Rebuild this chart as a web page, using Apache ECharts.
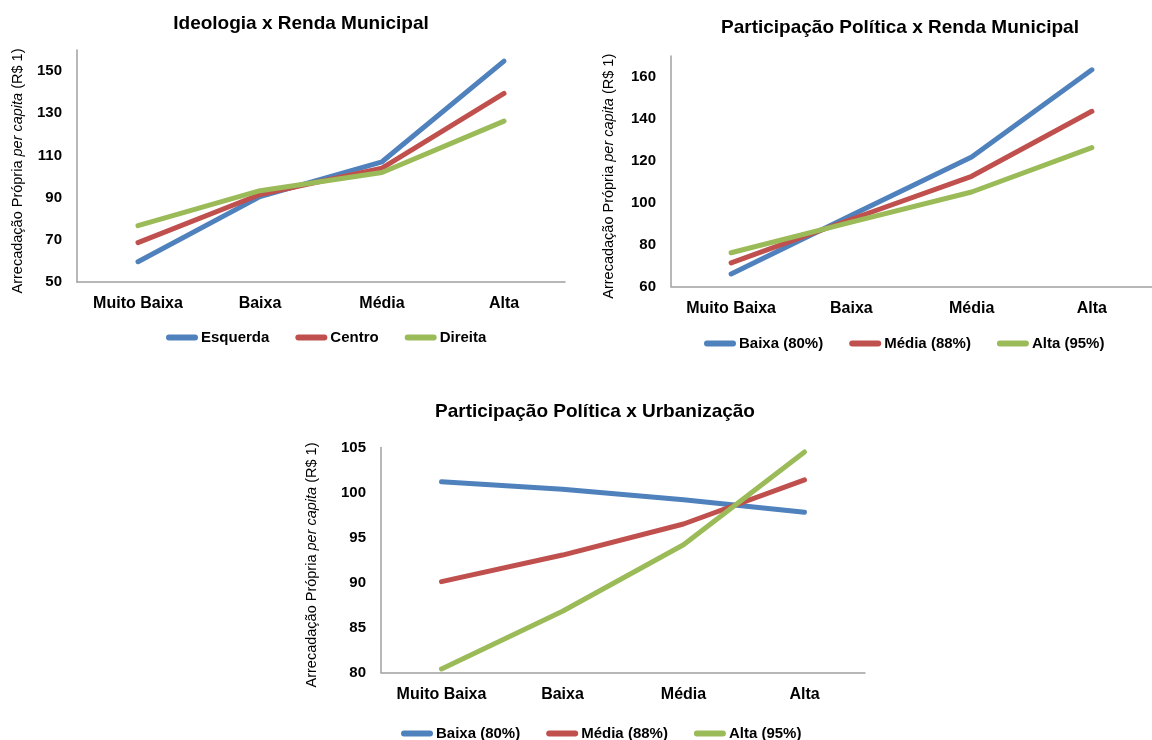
<!DOCTYPE html>
<html>
<head>
<meta charset="utf-8">
<script src="https://cdn.jsdelivr.net/npm/echarts@6/dist/echarts.min.js"></script>
<style>
  html, body { margin: 0; padding: 0; background: #fff; }
  #chart { width: 1152px; height: 740px; }
</style>
</head>
<body>
<div id="chart"></div>
<script>
// Categorias de renda / urbanização
const categorias = ['Muito Baixa', 'Baixa', 'Média', 'Alta'];

// Ideologia x Renda Municipal
const ideologiaNomes = ['Esquerda', 'Centro', 'Direita'];
const esquerda = [59.6, 90.5, 107.0, 154.7];
const centro   = [68.7, 91.5, 104.0, 139.4];
const direita  = [76.7, 93.3, 101.9, 126.3];
const escalaIdeologia = [50, 160, 20];

// Participação Política x Renda Municipal
const participacaoNomes = ['Baixa (80%)', 'Média (88%)', 'Alta (95%)'];
const rendaBaixa = [66.0, 94.0, 121.8, 163.4];
const rendaMedia = [71.3, 92.1, 112.6, 143.6];
const rendaAlta  = [76.1, 90.7, 105.1, 126.3];
const escalaRenda = [60, 170, 20];

// Participação Política x Urbanização
const urbBaixa = [101.2, 100.35, 99.2, 97.8];
const urbMedia = [90.1, 93.05, 96.5, 101.4];
const urbAlta  = [80.4, 86.8, 94.2, 104.5];
const escalaUrb = [80, 105, 5];

const cores = ['#4F81BD', '#C0504D', '#9BBB59'];
const fonte = '"Liberation Sans", Arial, Helvetica, sans-serif';
const pill = 'path://M3,0 L29,0 A3,3 0 0 1 29,6 L3,6 A3,3 0 0 1 3,0 Z';

const grids = [
  { left: 77,  top: 50,    width: 488, height: 232 },
  { left: 671, top: 56,    width: 493, height: 230.5 },
  { left: 381, top: 447.5, width: 484, height: 225 }
];

const titulos = [
  { text: 'Ideologia x Renda Municipal', x: 301, y: 14 },
  { text: 'Participação Política x Renda Municipal', x: 900, y: 18 },
  { text: 'Participação Política x Urbanização', x: 595, y: 402 }
];

const escalas = [escalaIdeologia, escalaRenda, escalaUrb];
const nameGaps = [52, 55, 62];
const showMax = [false, false, true];

const axisName = '{n|Arrecadação Própria }{i|per capita}{n| (R$ 1)}';

const xAxes = grids.map((g, k) => ({
  type: 'category',
  gridIndex: k,
  data: categorias,
  boundaryGap: true,
  axisLine: { lineStyle: { color: '#a0a0a0', width: 1.5 } },
  axisTick: { show: false },
  axisLabel: { color: '#000', fontFamily: fonte, fontWeight: 'bold', fontSize: 16, margin: 14 },
  splitLine: { show: false }
}));

const yAxes = grids.map((g, k) => ({
  type: 'value',
  gridIndex: k,
  min: escalas[k][0],
  max: escalas[k][1],
  interval: escalas[k][2],
  axisLine: { show: true, lineStyle: { color: '#a0a0a0', width: 1.5 } },
  axisTick: { show: false },
  splitLine: { show: false },
  axisLabel: {
    color: '#000', fontFamily: fonte, fontWeight: 'bold', fontSize: 15, margin: 15,
    showMaxLabel: showMax[k]
  },
  name: axisName,
  nameLocation: 'middle',
  nameRotate: 90,
  nameGap: nameGaps[k],
  nameTextStyle: {
    padding: [0, 10, 0, 0],
    rich: {
      n: { fontFamily: fonte, fontSize: 14.5, color: '#000' },
      i: { fontFamily: fonte, fontSize: 14.5, color: '#000', fontStyle: 'italic' }
    }
  }
}));

function linha(nome, valores, cor, k) {
  return {
    type: 'line',
    name: nome,
    xAxisIndex: k,
    yAxisIndex: k,
    data: valores,
    symbol: 'none',
    smooth: false,
    color: cor,
    lineStyle: { width: 5, color: cor, cap: 'round', join: 'round' },
    emphasis: { disabled: true }
  };
}

const series = [
  linha(ideologiaNomes[0], esquerda, cores[0], 0),
  linha(ideologiaNomes[1], centro,   cores[1], 0),
  linha(ideologiaNomes[2], direita,  cores[2], 0),
  linha(participacaoNomes[0], rendaBaixa, cores[0], 1),
  linha(participacaoNomes[1], rendaMedia, cores[1], 1),
  linha(participacaoNomes[2], rendaAlta,  cores[2], 1),
  linha(participacaoNomes[0], urbBaixa, cores[0], 2),
  linha(participacaoNomes[1], urbMedia, cores[1], 2),
  linha(participacaoNomes[2], urbAlta,  cores[2], 2)
];

function legenda(nomes, left, top) {
  return {
    data: nomes,
    left: left,
    top: top,
    orient: 'horizontal',
    padding: 0,
    itemGap: 26,
    itemWidth: 32,
    itemHeight: 6,
    icon: pill,
    selectedMode: false,
    textStyle: { color: '#000', fontFamily: fonte, fontWeight: 'bold', fontSize: 15, padding: [0, 0, 0, -2] }
  };
}

const option = {
  animation: false,
  backgroundColor: '#fff',
  title: titulos.map(t => ({
    text: t.text,
    left: t.x,
    top: t.y,
    textAlign: 'center',
    padding: 0,
    textStyle: { color: '#000', fontFamily: fonte, fontWeight: 'bold', fontSize: 19 }
  })),
  grid: grids.map(g => Object.assign({ containLabel: false }, g)),
  xAxis: xAxes,
  yAxis: yAxes,
  legend: [
    legenda(ideologiaNomes, 166, 330),
    legenda(participacaoNomes, 704, 336),
    legenda(participacaoNomes, 401, 726)
  ],
  series: series
};

const chart = echarts.init(document.getElementById('chart'), null, { renderer: 'canvas' });
chart.setOption(option);
</script>
</body>
</html>
